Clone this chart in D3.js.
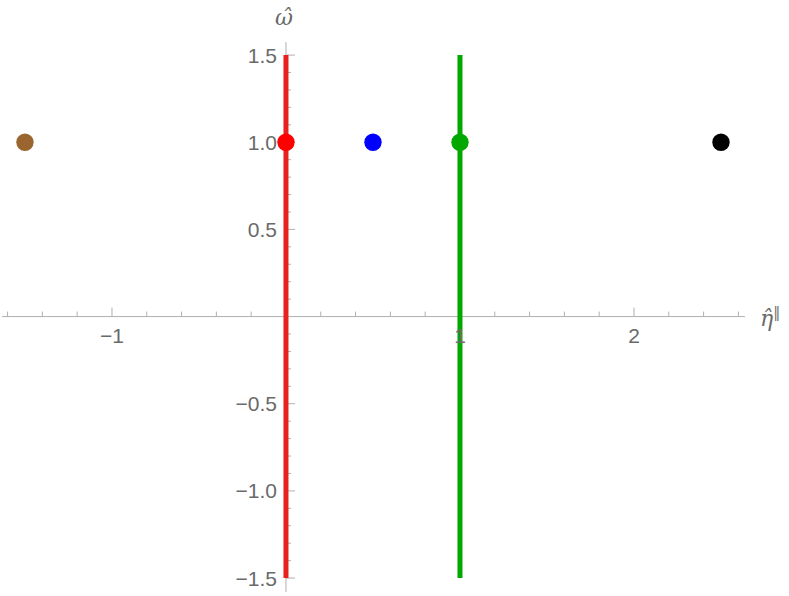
<!DOCTYPE html>
<html><head><meta charset="utf-8">
<script src="https://cdn.jsdelivr.net/npm/d3@7"></script>
<style>body{margin:0;background:#fff}svg{display:block}</style>
</head><body>
<svg id="c" width="789" height="596"></svg>
<script>
// data
const points = [
  {x:-1.5, y:1.0, color:"#9b6530"},
  {x:0.5,  y:1.0, color:"#0000ff"},
  {x:2.5,  y:1.0, color:"#000000"}
];
const vlines = [
  {x:0, y0:-1.5, y1:1.5, color:"#e8201e"},
  {x:1, y0:-1.5, y1:1.5, color:"#00a800"}
];
const vlinePoints = [
  {x:0, y:1.0, color:"#ff0000"},
  {x:1, y:1.0, color:"#00a800"}
];
const xMajor = [-1, 1, 2];
const xMajorLabels = ["\u22121", "1", "2"];
const yMajor = [-1.5, -1.0, -0.5, 0.5, 1.0, 1.5];
const yMajorLabels = ["\u22121.5", "\u22121.0", "\u22120.5", "0.5", "1.0", "1.5"];

const svg = d3.select("#c");
const x = d3.scaleLinear().domain([-1.632, 2.638]).range([2, 745]);
const y = d3.scaleLinear().domain([-1.58, 1.575]).range([592, 42]);
const axisColor = "#b0b0b0", textColor = "#6a6a6a";
const tickFont = "Liberation Sans, Arial, sans-serif";

// x axis
svg.append("line").attr("x1", x(-1.632)).attr("x2", x(2.638))
  .attr("y1", y(0)).attr("y2", y(0)).attr("stroke", axisColor).attr("stroke-width", 1);
const xMinor = d3.range(-16, 27, 2).map(d => d/10).filter(d => Math.abs(d - Math.round(d)) > 1e-6);
svg.selectAll(".xmin").data(xMinor).enter().append("line")
  .attr("x1", d => x(d)).attr("x2", d => x(d)).attr("y1", y(0)).attr("y2", y(0) - 5)
  .attr("stroke", axisColor);
svg.selectAll(".xmaj").data(xMajor).enter().append("line")
  .attr("x1", d => x(d)).attr("x2", d => x(d)).attr("y1", y(0)).attr("y2", y(0) - 9)
  .attr("stroke", axisColor);

// y axis
svg.append("line").attr("x1", x(0)).attr("x2", x(0))
  .attr("y1", y(1.575)).attr("y2", y(-1.58)).attr("stroke", axisColor);
const yMinor = d3.range(-15, 16, 1).map(d => d/10).filter(d => Math.abs(d*2 - Math.round(d*2)) > 1e-6);
svg.selectAll(".ymin").data(yMinor).enter().append("line")
  .attr("x1", x(0)).attr("x2", x(0) + 5).attr("y1", d => y(d)).attr("y2", d => y(d))
  .attr("stroke", axisColor);
svg.selectAll(".ymaj").data(yMajor).enter().append("line")
  .attr("x1", x(0)).attr("x2", x(0) + 9).attr("y1", d => y(d)).attr("y2", d => y(d))
  .attr("stroke", axisColor);

// vertical lines
svg.selectAll(".vl").data(vlines).enter().append("line")
  .attr("x1", d => x(d.x)).attr("x2", d => x(d.x))
  .attr("y1", d => y(d.y0)).attr("y2", d => y(d.y1))
  .attr("stroke", d => d.color).attr("stroke-width", 5);

// tick labels
svg.selectAll(".xl").data(xMajor).enter().append("text")
  .attr("x", d => x(d)).attr("y", y(0) + 26.5)
  .attr("text-anchor", "middle").attr("font-family", tickFont)
  .attr("font-size", 21).attr("fill", textColor)
  .text((d, i) => xMajorLabels[i]);
svg.selectAll(".yl").data(yMajor).enter().append("text")
  .attr("x", x(0) - 9).attr("y", d => y(d) + 7.5)
  .attr("text-anchor", "end").attr("font-family", tickFont)
  .attr("font-size", 21).attr("fill", textColor)
  .text((d, i) => yMajorLabels[i]);

// points
svg.selectAll(".pt").data(points.concat(vlinePoints)).enter().append("circle")
  .attr("cx", d => x(d.x)).attr("cy", d => y(d.y)).attr("r", 8.7)
  .attr("fill", d => d.color);

// axis labels
svg.append("text").attr("x", x(0) - 2).attr("y", 25).attr("text-anchor", "middle")
  .attr("font-family", "DejaVu Serif, serif").attr("font-style", "italic")
  .attr("font-size", 22).attr("fill", textColor).text("\u03c9\u0302");
const xl = svg.append("text").attr("x", 760).attr("y", 326)
  .attr("font-family", "DejaVu Serif, serif").attr("font-style", "italic")
  .attr("font-size", 22).attr("fill", textColor);
xl.append("tspan").text("\u03b7\u0302");
xl.append("tspan").attr("dy", -9).attr("font-size", 14).attr("font-style", "normal").text("\u2016");
</script>
</body></html>
